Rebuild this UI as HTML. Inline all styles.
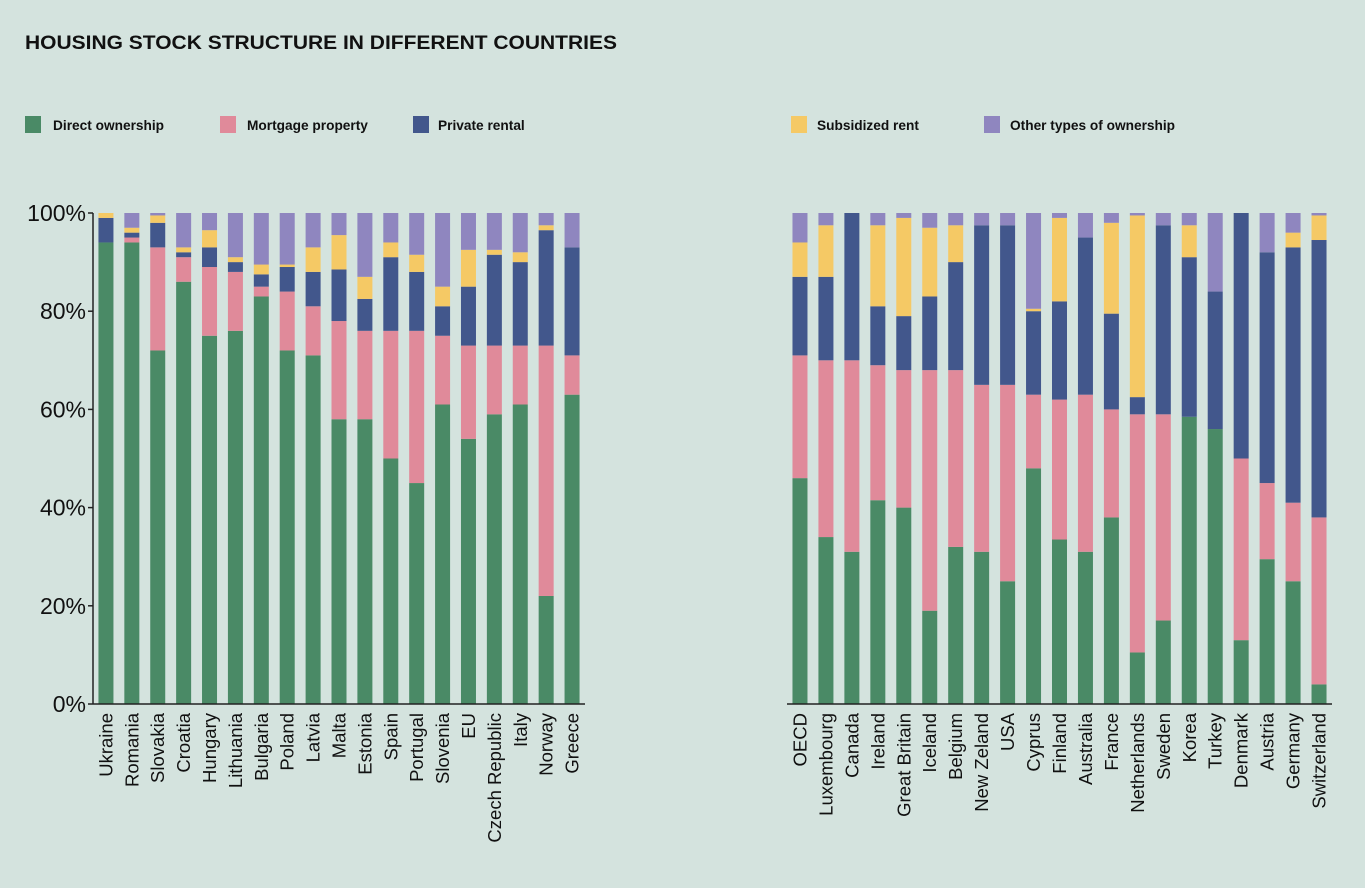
<!DOCTYPE html>
<html><head><meta charset="utf-8"><style>
body{margin:0;background:#d4e3de;width:1365px;height:883px;overflow:hidden;font-family:"Liberation Sans",sans-serif}
</style></head><body>
<svg id="chart" width="1365" height="883" xmlns="http://www.w3.org/2000/svg">
<text x="25" y="49" font-size="19.5" font-weight="bold" fill="#111" textLength="592" lengthAdjust="spacingAndGlyphs">HOUSING STOCK STRUCTURE IN DIFFERENT COUNTRIES</text>
<g font-size="13.7" font-weight="bold" fill="#111">
<g><rect x="25" y="116" width="16" height="17" fill="#4a8a66"/><text x="53" y="130">Direct ownership</text></g>
<g><rect x="220" y="116" width="16" height="17" fill="#e08a9a"/><text x="247" y="130">Mortgage property</text></g>
<g><rect x="413" y="116" width="16" height="17" fill="#42578c"/><text x="438" y="130">Private rental</text></g>
<g><rect x="791" y="116" width="16" height="17" fill="#f5c965"/><text x="817" y="130">Subsidized rent</text></g>
<g><rect x="984" y="116" width="16" height="17" fill="#8f86bf"/><text x="1010" y="130">Other types of ownership</text></g>
</g>
<g id="plots"></g>
</svg>
<script>
const leftCountries=["Ukraine","Romania","Slovakia","Croatia","Hungary","Lithuania","Bulgaria","Poland","Latvia","Malta","Estonia","Spain","Portugal","Slovenia","EU","Czech Republic","Italy","Norway","Greece"];
const leftDirect=[94,94,72,86,75,76,83,72,71,58,58,50,45,61,54,59,61,22,63];
const leftMortgage=[0,1,21,5,14,12,2,12,10,20,18,26,31,14,19,14,12,51,8];
const leftPrivate=[5,1,5,1,4,2,2.5,5,7,10.5,6.5,15,12,6,12,18.5,17,23.5,22];
const leftSubsidized=[1,1,1.5,1,3.5,1,2,0.5,5,7,4.5,3,3.5,4,7.5,1,2,1,0];
const rightCountries=["OECD","Luxembourg","Canada","Ireland","Great Britain","Iceland","Belgium","New Zeland","USA","Cyprus","Finland","Australia","France","Netherlands","Sweden","Korea","Turkey","Denmark","Austria","Germany","Switzerland"];
const rightDirect=[46,34,31,41.5,40,19,32,31,25,48,33.5,31,38,10.5,17,58.5,56,13,29.5,25,4];
const rightMortgage=[25,36,39,27.5,28,49,36,34,40,15,28.5,32,22,48.5,42,0,0,37,15.5,16,34];
const rightPrivate=[16,17,30,12,11,15,22,32.5,32.5,17,20,32,19.5,3.5,38.5,32.5,28,50,47,52,56.5];
const rightSubsidized=[7,10.5,0,16.5,20,14,7.5,0,0,0.5,17,0,18.5,37,0,6.5,0,0,0,3,5];
const yTicks=[0,20,40,60,80,100];
const colors=["#4a8a66","#e08a9a","#42578c","#f5c965","#8f86bf"];
const segNames=["direct","mortgage","private","subsidized","other"];
const NS="http://www.w3.org/2000/svg";
const plots=document.getElementById("plots");
const Y0=704,Y1=213;
function y(v){return Y0-(Y0-Y1)*v/100;}
function mk(tag,attrs,parent){const e=document.createElementNS(NS,tag);for(const k in attrs)e.setAttribute(k,attrs[k]);parent.appendChild(e);return e;}
function draw(countries,series,x0,x1,name,showY){
  const g=mk("g",{},plots);
  
  
  const n=countries.length,step=(x1-x0)/n;
  const xc=i=>x0+step*(i+0.5);
  countries.forEach((c,i)=>{
    let acc=0;
    const vals=series.map(s=>s[i]);
    const other=Math.max(0,100-vals.reduce((a,b)=>a+b,0));
    vals.push(other);
    vals.forEach((v,k)=>{
      if(v<=0)return;
      const r=mk("rect",{x:xc(i)-7.5,y:y(acc+v),width:15,height:y(acc)-y(acc+v),fill:colors[k]},g);
      
      
      acc+=v;
    });
    const t=mk("text",{transform:`translate(${xc(i)+6.5},713) rotate(-90)`,"text-anchor":"end","font-size":"18.5",fill:"#111"},g);
    t.textContent=c;
    
    
  });
  const ax=mk("line",{x1:x0,x2:x1,y1:Y0,y2:Y0,stroke:"#222","stroke-width":1.5},g);
  
  
  if(showY){
    const ya=mk("line",{x1:x0,x2:x0,y1:Y1,y2:Y0,stroke:"#222","stroke-width":1.5},g);
    
    
    yTicks.forEach(v=>{
      mk("line",{x1:x0-5,x2:x0,y1:y(v),y2:y(v),stroke:"#222","stroke-width":1.5},g);
      const t=mk("text",{x:x0-7,y:y(v)+8,"text-anchor":"end","font-size":"23",fill:"#111"},g);
      t.textContent=v+"%";
      
      
    });
  }
}
draw(leftCountries,[leftDirect,leftMortgage,leftPrivate,leftSubsidized],93,585,"europe-chart",true);
draw(rightCountries,[rightDirect,rightMortgage,rightPrivate,rightSubsidized],787,1332,"world-chart",false);
</script>
</body></html>
